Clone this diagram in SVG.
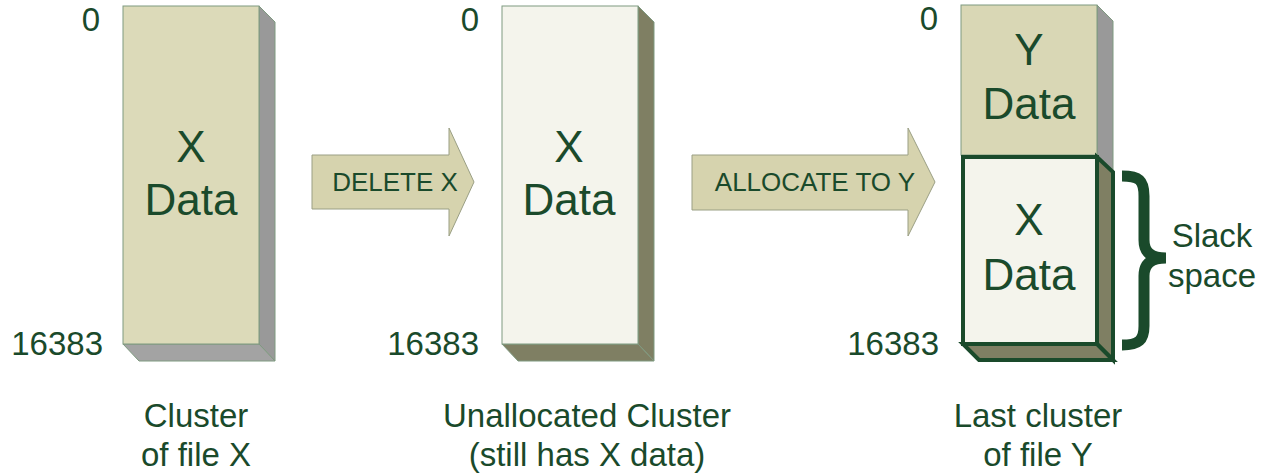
<svg xmlns="http://www.w3.org/2000/svg" width="1271" height="475" viewBox="0 0 1271 475">
<style>
text{font-family:"Liberation Sans",Arial,sans-serif;fill:#1A4A2B}
.big{font-size:44px;text-anchor:middle}
.lbl{font-size:33px}
.end{text-anchor:end}
.mid{text-anchor:middle}
.arr{font-size:26px;text-anchor:middle}
.thin{stroke:#7F9A80;stroke-width:1}
.bold{stroke:#1A4A2B;stroke-width:4;stroke-linejoin:miter}
</style>
<rect width="1271" height="475" fill="#FFFFFF"/>
<g id="cluster1">
<polygon points="259,6 275,22 275,361 259,344" fill="#999999" class="thin"/>
<polygon points="123,344 259,344 275,361 139,361" fill="#A3A3A3" class="thin"/>
<rect x="123" y="6" width="136" height="338" fill="#DCDAB9" class="thin"/>
<text class="big" x="191" y="162">X</text>
<text class="big" x="191" y="215">Data</text>
<text class="lbl end" x="100" y="31">0</text>
<text class="lbl end" x="103" y="355">16383</text>
<text class="lbl mid" x="196" y="427">Cluster</text>
<text class="lbl mid" x="196" y="466">of file X</text>
</g>
<g id="cluster2">
<polygon points="638,6 654,22 654,361 638,344" fill="#7F7F63" class="thin"/>
<polygon points="502,344 638,344 654,361 518,361" fill="#7F7F63" class="thin"/>
<rect x="502" y="6" width="136" height="338" fill="#F4F4EC" class="thin"/>
<text class="big" x="569" y="162">X</text>
<text class="big" x="569" y="215">Data</text>
<text class="lbl end" x="479" y="31">0</text>
<text class="lbl end" x="479" y="355">16383</text>
<text class="lbl mid" x="587" y="427">Unallocated Cluster</text>
<text class="lbl mid" x="587" y="466">(still has X data)</text>
</g>
<g id="cluster3">
<polygon points="1097,5 1113,21 1113,171 1097,155" fill="#999999" class="thin"/>
<rect x="961" y="5" width="136" height="150" fill="#D9D7B5" class="thin"/>
<text class="big" x="1029" y="65">Y</text>
<text class="big" x="1029" y="119">Data</text>
<polygon points="1097,157 1113,172 1113,360 1097,344" fill="#7F7F63" class="bold"/>
<polygon points="963,344 1097,344 1113,360 979,360" fill="#7F7F63" class="bold"/>
<rect x="963" y="157" width="134" height="187" fill="#F4F4EC" class="bold"/>
<text class="big" x="1029" y="235">X</text>
<text class="big" x="1029" y="290">Data</text>
<text class="lbl end" x="938" y="30">0</text>
<text class="lbl end" x="939" y="355">16383</text>
<text class="lbl mid" x="1038" y="427">Last cluster</text>
<text class="lbl mid" x="1038" y="466">of file Y</text>
</g>
<g id="slack">
<path d="M1122,176 C1139,176 1144,180 1144,196 L1144,240 C1144,252 1151,258 1166,258 C1151,258 1144,264 1144,276 L1144,326 C1144,340 1139,345 1122,345" fill="none" stroke="#1A4A2B" stroke-width="11"/>
<text class="lbl mid" x="1212" y="247">Slack</text>
<text class="lbl mid" x="1212" y="287">space</text>
</g>
<g id="connectors">
<g id="arrow-delete">
<polygon points="312,155 449,155 449,128 474,182 449,236 449,209 312,209" fill="#D6D3AE" stroke="#9A9F84" stroke-width="1"/>
<text class="arr" x="395" y="191">DELETE X</text>
</g>
<g id="arrow-allocate">
<polygon points="692,155 908,155 908,128 935,182 908,236 908,210 692,210" fill="#D6D3AE" stroke="#9A9F84" stroke-width="1"/>
<text class="arr" x="815" y="191">ALLOCATE TO Y</text>
</g>
</g>
</svg>
